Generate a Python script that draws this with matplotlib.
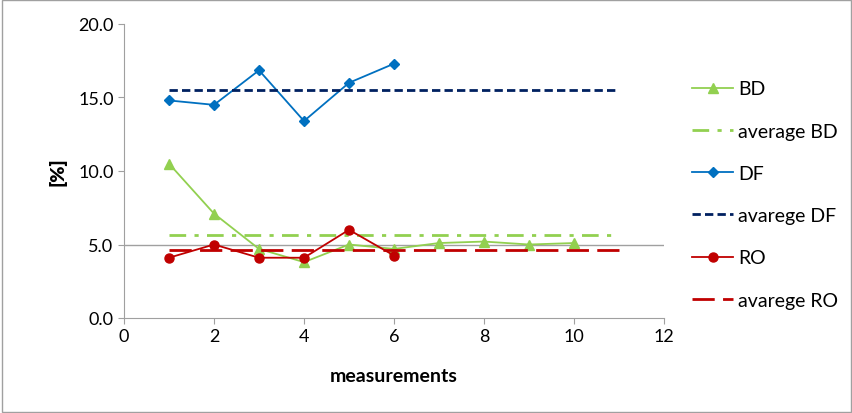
import matplotlib
matplotlib.use("Agg")
import matplotlib.pyplot as plt

plt.rcParams["font.family"] = ["Lato", "DejaVu Sans"]

x_bd = [1, 2, 3, 4, 5, 6, 7, 8, 9, 10]
bd = [10.5, 7.1, 4.7, 3.8, 5.0, 4.7, 5.1, 5.2, 5.0, 5.1]
x_df = [1, 2, 3, 4, 5, 6]
df = [14.8, 14.5, 16.85, 13.4, 16.0, 17.3]
x_ro = [1, 2, 3, 4, 5, 6]
ro = [4.1, 5.0, 4.1, 4.1, 6.0, 4.25]
avg_x = [1, 11]
avg_bd, avg_df, avg_ro = 5.65, 15.5, 4.6

GREEN, BLUE, NAVY, RED = "#92d050", "#0070c0", "#002060", "#c00000"

fig = plt.figure(figsize=(8.53, 4.14), dpi=100)
ax = fig.add_axes([124/853, 1-319/414, 540/853, 294/414])
ax.axhline(5, color="#a0a0a0", lw=1, zorder=0)
ax.plot(x_bd, bd, color=GREEN, marker="^", ms=7, lw=1.3, label="BD")
ax.plot(avg_x, [avg_bd]*2, color=GREEN, ls=(0, (6, 3, 1.5, 3)), lw=2, label="average BD")
ax.plot(x_df, df, color=BLUE, marker="D", ms=5.5, lw=1.3, label="DF")
ax.plot(avg_x, [avg_df]*2, color=NAVY, ls=(0, (3, 1.5)), lw=2, label="avarege DF")
ax.plot(x_ro, ro, color=RED, marker="o", ms=6.5, lw=1.3, label="RO")
ax.plot(avg_x, [avg_ro]*2, color=RED, ls=(0, (8, 3)), lw=2, label="avarege RO")

ax.set_xlim(0, 12); ax.set_ylim(0, 20)
ax.set_xticks(range(0, 13, 2)); ax.set_yticks([0, 5, 10, 15, 20])
ax.set_yticklabels([f"{v:.1f}" for v in [0, 5, 10, 15, 20]])
ax.tick_params(labelsize=13, length=4, color="#a0a0a0")
for s in ("top", "right"):
    ax.spines[s].set_visible(False)
for s in ("left", "bottom"):
    ax.spines[s].set_color("#a0a0a0")
ax.set_xlabel("measurements", fontsize=14, fontweight="bold", labelpad=16)
ax.set_ylabel("[%]", fontsize=14, fontweight="heavy", labelpad=8)
ax.legend(loc="center left", bbox_to_anchor=(1.02, 0.42), frameon=False,
          fontsize=14, labelspacing=1.3, handlelength=2.1, handletextpad=0.25)
fig.patches.append(plt.Rectangle((0.002, 0.002), 0.996, 0.996, transform=fig.transFigure,
                                 fill=False, edgecolor="#a0a0a0", lw=1))
fig.savefig("out.png", dpi=100)
